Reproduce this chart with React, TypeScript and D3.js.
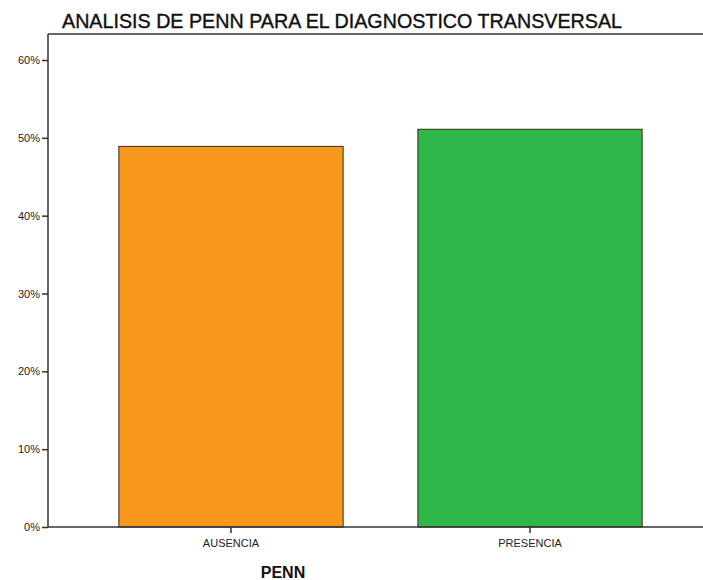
import React, { useEffect, useRef } from 'react';
import * as d3 from 'd3';

const categories = ['AUSENCIA', 'PRESENCIA'];
const percents = [48.9, 51.1];
const barColors = ['#f8981d', '#2fb84a'];
const yTicks = [0, 10, 20, 30, 40, 50, 60];

const W = 703;
const H = 580;

export default function App() {
  const svgRef = useRef<SVGSVGElement>(null);

  useEffect(() => {
    if (!svgRef.current) return;
    const svg = d3.select(svgRef.current);
    svg.selectAll('*').remove();

    const left = 48;
    const top = 34;
    const bottom = 527;

    const y = d3.scaleLinear().domain([0, 60]).range([bottom, 60]);
    const x = d3.scaleBand<string>()
      .domain(categories)
      .range([left, 713])
      .paddingInner(0.25)
      .paddingOuter(0.237);

    const font = '"Liberation Sans", Arial, sans-serif';

    // frame
    svg.append('line')
      .attr('x1', left).attr('x2', W)
      .attr('y1', top).attr('y2', top)
      .attr('stroke', '#333').attr('stroke-width', 1.5);

    // bars
    svg.append('g')
      .selectAll('rect')
      .data(categories)
      .join('rect')
      .attr('x', d => x(d)!)
      .attr('width', x.bandwidth())
      .attr('y', (_, i) => y(percents[i]))
      .attr('height', (_, i) => bottom - y(percents[i]))
      .attr('fill', (_, i) => barColors[i])
      .attr('stroke', '#3a2a1a')
      .attr('stroke-width', 1);

    // y axis
    const ya = svg.append('g')
      .attr('transform', `translate(${left},0)`)
      .call(d3.axisLeft(y).tickValues(yTicks).tickSize(6).tickPadding(2).tickFormat(d => `${d}%`));
    ya.select('.domain').attr('stroke', '#333').attr('stroke-width', 1.5)
      .attr('d', `M0,${top}V${bottom}`);
    ya.selectAll('.tick line').attr('stroke', '#333').attr('stroke-width', 1.5);
    ya.selectAll('.tick text').attr('font-family', font).attr('font-size', 11).attr('fill', '#222');

    // x axis
    const xa = svg.append('g')
      .attr('transform', `translate(0,${bottom})`)
      .call(d3.axisBottom(x).tickSize(6).tickPadding(6));
    xa.select('.domain').attr('stroke', '#333').attr('stroke-width', 1.5)
      .attr('d', `M${left},0H${W}`);
    xa.selectAll('.tick line').attr('stroke', '#333').attr('stroke-width', 1.5);
    xa.selectAll('.tick text').attr('font-family', font).attr('font-size', 11).attr('fill', '#222');

    // title
    svg.append('text')
      .attr('x', 62).attr('y', 28)
      .attr('font-family', font).attr('font-size', 21)
      .attr('fill', '#111')
      .attr('stroke', '#111').attr('stroke-width', 0.4)
      .attr('textLength', 560).attr('lengthAdjust', 'spacingAndGlyphs')
      .text('ANALISIS DE PENN PARA EL DIAGNOSTICO TRANSVERSAL');

    // x axis title
    svg.append('text')
      .attr('x', 283).attr('y', 578)
      .attr('text-anchor', 'middle')
      .attr('font-family', font).attr('font-size', 16).attr('font-weight', 'bold')
      .attr('fill', '#111')
      .text('PENN');
  }, []);

  return (
    <svg
      ref={svgRef}
      width={W}
      height={H}
      style={{ position: 'absolute', left: 0, top: 0, background: '#fff' }}
    />
  );
}
